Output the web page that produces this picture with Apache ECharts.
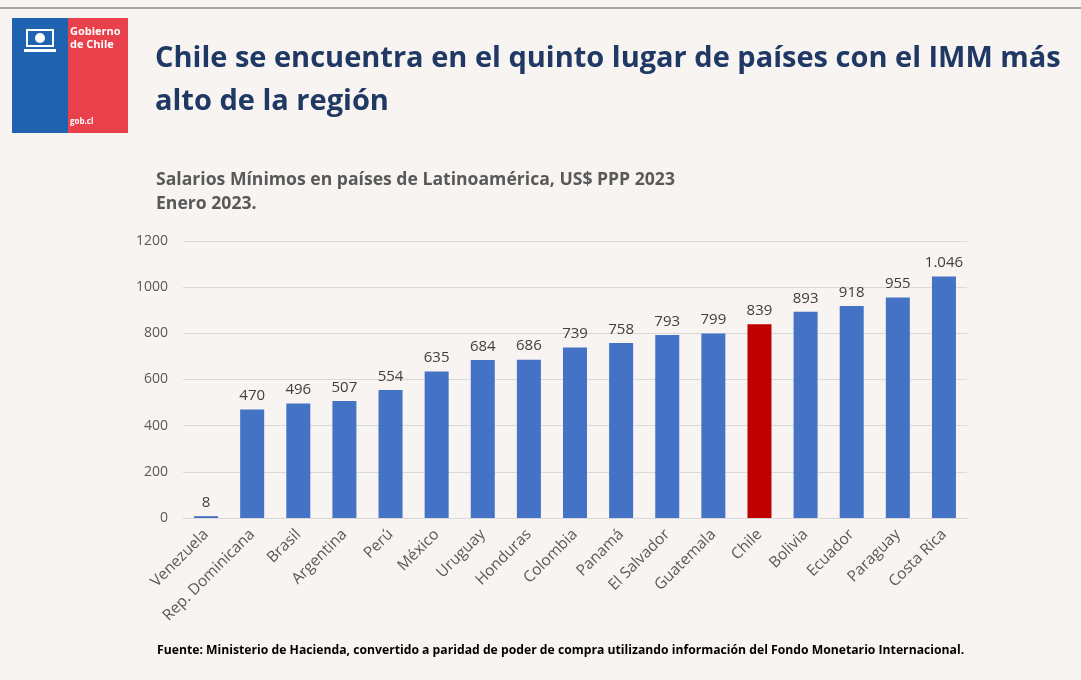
<!DOCTYPE html>
<html>
<head>
<meta charset="UTF-8">
<title>Salarios Mínimos Latinoamérica</title>
<script src="https://cdn.jsdelivr.net/npm/echarts@6/dist/echarts.min.js"></script>
<style>
  html, body { margin: 0; padding: 0; background: #f7f4f1; }
  #chart { width: 1081px; height: 680px; }
</style>
</head>
<body>
<div id="chart"></div>
<script>
// datos
const paises = ['Venezuela', 'Rep. Dominicana', 'Brasil', 'Argentina', 'Perú', 'México', 'Uruguay',
  'Honduras', 'Colombia', 'Panamá', 'El Salvador', 'Guatemala', 'Chile', 'Bolivia', 'Ecuador',
  'Paraguay', 'Costa Rica'];
const salarios = [8, 470, 496, 507, 554, 635, 684, 686, 739, 758, 793, 799, 839, 893, 918, 955, 1046];
const destacado = 'Chile';
const ticksY = [0, 200, 400, 600, 800, 1000, 1200];

const azul = '#4472c4';
const rojo = '#c00000';
const fuente = '"Open Sans", Lato, sans-serif';

let chart = echarts.init(document.getElementById('chart'));

// formato con punto de miles (1.046)
function fmt(v) {
  return String(v).replace(/\B(?=(\d{3})+(?!\d))/g, '.');
}

let option = {
  backgroundColor: '#f7f4f1',
  animation: false,
  textStyle: { fontFamily: fuente },
  graphic: [
    // línea superior
    { type: 'rect', shape: { x: 0, y: 7, width: 1081, height: 2 }, style: { fill: '#a6a6a6' } },
    // logo gobierno
    { type: 'rect', shape: { x: 12, y: 18, width: 56, height: 115 }, style: { fill: '#1f63b0' } },
    { type: 'rect', shape: { x: 68, y: 18, width: 60, height: 115 }, style: { fill: '#e8414c' } },
    { type: 'rect', shape: { x: 27, y: 30, width: 26, height: 16 }, style: { fill: 'none', stroke: '#ffffff', lineWidth: 2 } },
    { type: 'circle', shape: { cx: 40, cy: 38, r: 5 }, style: { fill: '#ffffff' } },
    { type: 'rect', shape: { x: 24, y: 49, width: 32, height: 3 }, style: { fill: '#ffffff' } },
    { type: 'text', left: 70, top: 25, style: { text: 'Gobierno\nde Chile', fill: '#ffffff', font: 'bold 11px ' + fuente, lineHeight: 13 } },
    { type: 'text', left: 70, top: 118, style: { text: 'gob.cl', fill: '#ffffff', font: 'bold 8px ' + fuente } },
    // título
    { type: 'text', left: 155, top: 37, style: { text: 'Chile se encuentra en el quinto lugar de países con el IMM más\nalto de la región', fill: '#1f3864', font: 'bold 29px ' + fuente, lineHeight: 43 } },
    // subtítulo
    { type: 'text', left: 156, top: 168, style: { text: 'Salarios Mínimos en países de Latinoamérica, US$ PPP 2023\nEnero 2023.', fill: '#595959', font: 'bold 17.6px ' + fuente, lineHeight: 24 } },
    // fuente
    { type: 'text', left: 157, top: 645, style: { text: 'Fuente: Ministerio de Hacienda, convertido a paridad de poder de compra utilizando información del Fondo Monetario Internacional.', fill: '#000000', font: 'bold 12.2px ' + fuente } }
  ],
  grid: { left: 183, right: 114, top: 241, bottom: 162, containLabel: false },
  xAxis: {
    type: 'category',
    data: paises,
    axisLine: { lineStyle: { color: '#d9d9d9' } },
    axisTick: { show: false },
    axisLabel: { rotate: 45, color: '#595959', fontSize: 15.5, margin: 14, interval: 0 }
  },
  yAxis: {
    type: 'value',
    min: ticksY[0],
    max: ticksY[ticksY.length - 1],
    interval: 200,
    axisLine: { show: false },
    axisTick: { show: false },
    axisLabel: { color: '#595959', fontSize: 14, margin: 15, formatter: v => String(v) },
    splitLine: { lineStyle: { color: '#d9d9d9' } }
  },
  series: [{
    type: 'bar',
    barWidth: 24,
    data: salarios.map((v, i) => ({
      value: v,
      itemStyle: { color: paises[i] === destacado ? rojo : azul }
    })),
    label: {
      show: true,
      position: 'top',
      distance: 6,
      color: '#404040',
      fontSize: 15,
      formatter: p => fmt(p.value)
    }
  }]
};
chart.setOption(option);
</script>
</body>
</html>
